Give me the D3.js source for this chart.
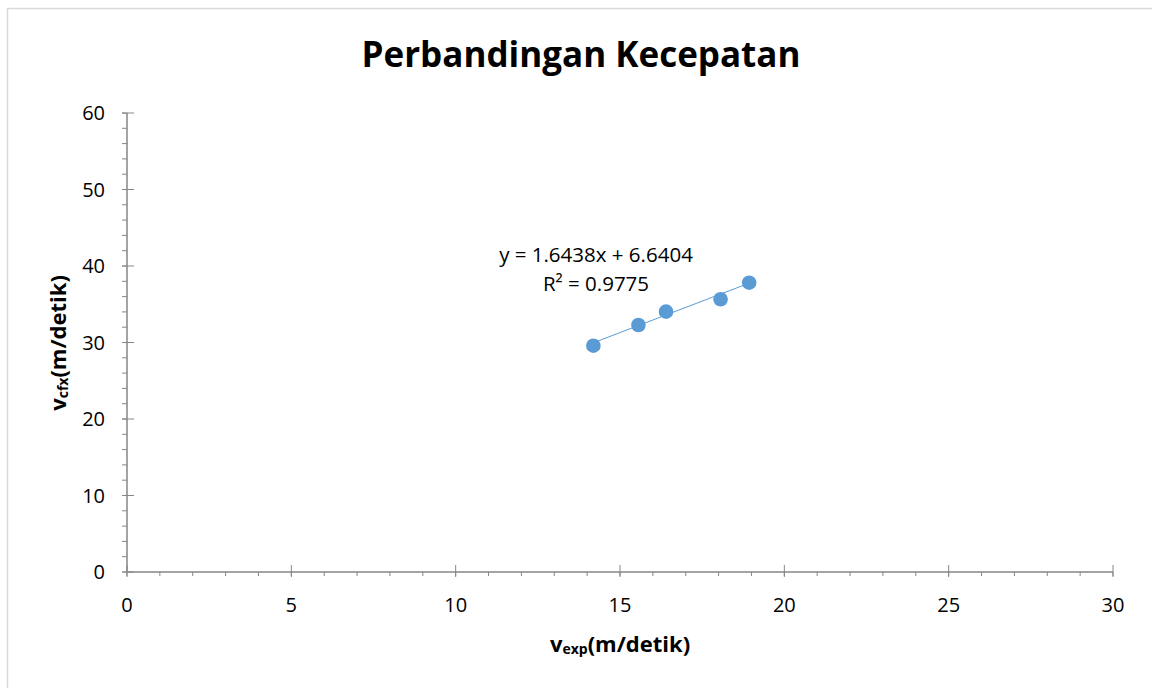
<!DOCTYPE html>
<html>
<head>
<meta charset="utf-8">
<script src="https://cdn.jsdelivr.net/npm/d3@7"></script>
<style>
  html, body { margin: 0; padding: 0; background: #fff; }
  svg { display: block; font-family: "Open Sans", "Noto Sans", sans-serif; }
</style>
</head>
<body>
<svg id="chart" width="1152" height="688"></svg>
<script>
// Measured speeds (m/detik): experiment vs. CFX simulation
const vExp = [14.19, 15.56, 16.40, 18.06, 18.93];
const vCfx = [29.58, 32.29, 34.03, 35.65, 37.82];

// Linear trendline fitted to the points
const slope = 1.6438;
const intercept = 6.6404;
const rSquared = 0.9775;

const xTicks = [0, 5, 10, 15, 20, 25, 30];
const yTicks = [0, 10, 20, 30, 40, 50, 60];
const xMinor = d3.range(0, 31, 1);
const yMinor = d3.range(0, 61, 2);

const svg = d3.select("#chart");
const W = 1152, H = 688;

// chart frame
svg.append("rect")
  .attr("x", 7.5).attr("y", 8.5)
  .attr("width", W).attr("height", H)
  .attr("fill", "#fff")
  .attr("stroke", "#d9d9d9").attr("stroke-width", 1.5);

const x = d3.scaleLinear().domain([0, 30]).range([127, 1113]);
const y = d3.scaleLinear().domain([0, 60]).range([572, 113]);

const axisColor = "#868686";

// title
svg.append("text")
  .attr("x", 581).attr("y", 67)
  .attr("text-anchor", "middle")
  .attr("font-size", 35).attr("font-weight", "bold")
  .attr("fill", "#000")
  .text("Perbandingan Kecepatan");

// x axis
const gx = svg.append("g");
gx.selectAll("line.minor").data(xMinor).join("line")
  .attr("class", "minor")
  .attr("x1", d => x(d)).attr("x2", d => x(d))
  .attr("y1", y(0)).attr("y2", y(0) + 4)
  .attr("stroke", axisColor).attr("stroke-width", 1);
gx.selectAll("line.major").data(xTicks).join("line")
  .attr("class", "major")
  .attr("x1", d => x(d)).attr("x2", d => x(d))
  .attr("y1", y(0) - 7).attr("y2", y(0) + 5)
  .attr("stroke", axisColor).attr("stroke-width", 1);
gx.append("line")
  .attr("x1", x(0)).attr("x2", x(30))
  .attr("y1", y(0)).attr("y2", y(0))
  .attr("stroke", axisColor).attr("stroke-width", 1.5);
gx.selectAll("text").data(xTicks).join("text")
  .attr("x", d => x(d)).attr("y", 612)
  .attr("text-anchor", "middle")
  .attr("font-size", 20).attr("fill", "#000")
  .text(d => d);

// y axis
const gy = svg.append("g");
gy.selectAll("line.minor").data(yMinor).join("line")
  .attr("class", "minor")
  .attr("x1", x(0) - 5).attr("x2", x(0))
  .attr("y1", d => y(d)).attr("y2", d => y(d))
  .attr("stroke", axisColor).attr("stroke-width", 1);
gy.selectAll("line.major").data(yTicks).join("line")
  .attr("class", "major")
  .attr("x1", x(0) - 5).attr("x2", x(0) + 7)
  .attr("y1", d => y(d)).attr("y2", d => y(d))
  .attr("stroke", axisColor).attr("stroke-width", 1);
gy.append("line")
  .attr("x1", x(0)).attr("x2", x(0))
  .attr("y1", y(0)).attr("y2", y(60))
  .attr("stroke", axisColor).attr("stroke-width", 1.5);
gy.selectAll("text").data(yTicks).join("text")
  .attr("x", 105).attr("y", d => y(d) + 7)
  .attr("text-anchor", "end")
  .attr("font-size", 20).attr("fill", "#000")
  .text(d => d);

// axis titles
const xt = svg.append("text")
  .attr("x", 620).attr("y", 652)
  .attr("text-anchor", "middle")
  .attr("font-size", 22).attr("font-weight", "bold").attr("fill", "#000");
xt.append("tspan").text("v");
xt.append("tspan").attr("font-size", 14).attr("dy", 2).text("exp");
xt.append("tspan").attr("dy", -2).text("(m/detik)");

const yt = svg.append("text")
  .attr("transform", "translate(66,343) rotate(-90)")
  .attr("text-anchor", "middle")
  .attr("font-size", 22).attr("font-weight", "bold").attr("fill", "#000");
yt.append("tspan").text("v");
yt.append("tspan").attr("font-size", 14).attr("dy", 2).text("cfx");
yt.append("tspan").attr("dy", -2).text("(m/detik)");

// trendline across the data range
const [xMin, xMax] = d3.extent(vExp);
svg.append("line")
  .attr("x1", x(xMin)).attr("y1", y(slope * xMin + intercept))
  .attr("x2", x(xMax)).attr("y2", y(slope * xMax + intercept))
  .attr("stroke", "#5b9bd5").attr("stroke-width", 1);

// data points
svg.selectAll("circle.pt").data(vExp).join("circle")
  .attr("class", "pt")
  .attr("cx", d => x(d))
  .attr("cy", (d, i) => y(vCfx[i]))
  .attr("r", 7.3)
  .attr("fill", "#5b9bd5");

// trendline equation label
svg.append("text")
  .attr("x", 596).attr("y", 262)
  .attr("text-anchor", "middle")
  .attr("font-size", 20.5).attr("fill", "#000")
  .text(`y = ${slope}x + ${intercept}`);
svg.append("text")
  .attr("x", 596).attr("y", 291)
  .attr("text-anchor", "middle")
  .attr("font-size", 20.5).attr("fill", "#000")
  .text(`R² = ${rSquared}`);
</script>
</body>
</html>
